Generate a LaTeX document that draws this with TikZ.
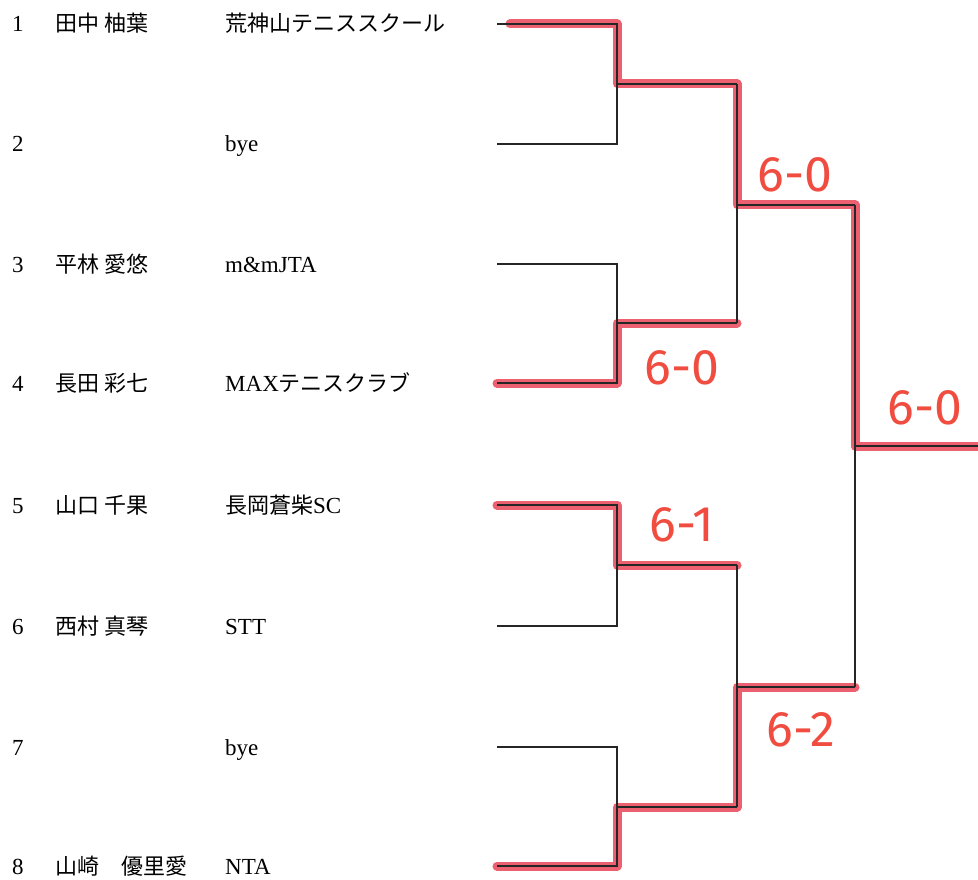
\documentclass[tikz,border=0pt]{standalone}
\usepackage{fontspec}
\setmainfont{Liberation Serif}
\newfontfamily\cjkfam{Noto Sans CJK JP}
\newcommand\jp[1]{{\cjkfam\fontsize{22}{24}\selectfont #1}}
\newfontfamily\hand{Fira Sans}
\definecolor{hlred}{RGB}{236,96,112}
\definecolor{scorered}{RGB}{240,76,64}
\begin{document}
\begin{tikzpicture}[x=1pt,y=-1pt,
  txt/.style={anchor=base west, inner sep=0pt, font=\fontsize{23}{25}\selectfont},
  brk/.style={line width=1.4pt, draw=black!85},
  hl/.style={line width=9pt, draw=hlred, line cap=round, line join=round},
  score/.style={font=\hand\fontsize{50}{50}\selectfont, text=scorered, inner sep=0pt}]
\useasboundingbox[fill=white] (0,0) rectangle (978,880);

% entries
\foreach \i/\y/\nm/\cl in {
  1/24/{\jp{田中 柚葉}}/{\jp{荒神山テニススクール}},
  2/144/{}/{bye},
  3/264/{\jp{平林 愛悠}}/{m\&mJTA},
  4/383/{\jp{長田 彩七}}/{MAX\jp{テニスクラブ}},
  5/505/{\jp{山口 千果}}/{\jp{長岡蒼柴}SC},
  6/626/{\jp{西村 真琴}}/{STT},
  7/747/{}/{bye},
  8/866/{\jp{山崎　優里愛}}/{NTA}}{
  \node[txt] (n\i) at (12,\y+8) {\i};
  \node[txt] (nm\i) at (55,\y+8) {\nm};
  \node[txt] (cl\i) at (225,\y+8) {\cl};
  \coordinate (p\i) at (497,\y);
}

% bracket points
\coordinate (j1) at (617,84);  \coordinate (a1) at (737,84);
\coordinate (j2) at (617,323); \coordinate (a2) at (737,323);
\coordinate (j3) at (617,565); \coordinate (a3) at (737,565);
\coordinate (j4) at (617,807); \coordinate (a4) at (737,807);
\coordinate (k1) at (737,205); \coordinate (b1) at (855,205);
\coordinate (k2) at (737,687); \coordinate (b2) at (855,687);
\coordinate (l1) at (855,446); \coordinate (c1) at (978,446);
\coordinate (s1) at (510,24);

% highlighted winner paths
\draw[hl] (s1) -| (j1) -- (a1) |- (b1) |- (c1);
\draw[hl] (p4) -| (j2) -- (a2);
\draw[hl] (p5) -| (j3) -- (a3);
\draw[hl] (p8) -| (j4) -- (a4) |- (b2);

% bracket lines
\draw[brk] (p1) -| (j1) |- (p2); \draw[brk] (j1) -- (a1);
\draw[brk] (p3) -| (j2) |- (p4); \draw[brk] (j2) -- (a2);
\draw[brk] (p5) -| (j3) |- (p6); \draw[brk] (j3) -- (a3);
\draw[brk] (p7) -| (j4) |- (p8); \draw[brk] (j4) -- (a4);
\draw[brk] (a1) -- (a2); \draw[brk] (k1) -- (b1);
\draw[brk] (a3) -- (a4); \draw[brk] (k2) -- (b2);
\draw[brk] (b1) -- (b2); \draw[brk] (l1) -- (c1);

% scores
\node[score] (sc1) at (795,175) {6-0};
\node[score] (sc2) at (682,368) {6-0};
\node[score] (sc3) at (925,408) {6-0};
\node[score] (sc4) at (682,525) {6-1};
\node[score] (sc5) at (801,730) {6-2};
\end{tikzpicture}
\end{document}
